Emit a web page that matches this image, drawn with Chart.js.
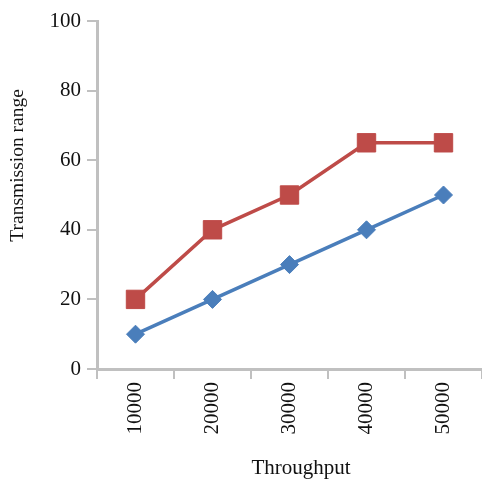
<!DOCTYPE html>
<html>
<head>
<meta charset="utf-8">
<script src="https://cdn.jsdelivr.net/npm/chart.js@4.4.1/dist/chart.umd.min.js"></script>
<style>
html,body{margin:0;padding:0;background:#fff;overflow:hidden;}
#wrap{width:482px;height:481px;position:relative;}
</style>
</head>
<body>
<div id="wrap"><canvas id="c"></canvas></div>
<script>
const categories = ['10000','20000','30000','40000','50000'];
const seriesBlue = [10, 20, 30, 40, 50];
const seriesRed = [20, 40, 50, 65, 65];
const yTicks = [0, 20, 40, 60, 80, 100];
const xTitle = 'Throughput';
const yTitle = 'Transmission range';

const FONT = '"Liberation Serif", "Times New Roman", serif';
const AXIS = '#c0c0c0';
const TEXT = '#111';

const axisTitles = {
  id: 'axisTitles',
  afterDraw(chart) {
    const ctx = chart.ctx;
    const area = chart.chartArea;
    ctx.save();
    ctx.fillStyle = TEXT;
    ctx.textAlign = 'center';
    ctx.textBaseline = 'middle';
    ctx.font = '21px ' + FONT;
    ctx.fillText(xTitle, area.left + (area.right - area.left) * 0.53, 468);
    ctx.translate(18, area.top + (area.bottom - area.top) * 0.415);
    ctx.rotate(-Math.PI / 2);
    ctx.font = '19.5px ' + FONT;
    ctx.fillText(yTitle, 0, 0);
    ctx.restore();
  }
};

new Chart(document.getElementById('c'), {
  type: 'line',
  data: {
    labels: categories,
    datasets: [
      {
        label: 'Series 2',
        data: seriesRed,
        borderColor: '#be4b48',
        backgroundColor: '#be4b48',
        borderWidth: 3.5,
        pointStyle: 'rect',
        pointRadius: 13,
        pointHoverRadius: 13,
        pointBorderWidth: 1,
        tension: 0
      },
      {
        label: 'Series 1',
        data: seriesBlue,
        borderColor: '#4a7ebb',
        backgroundColor: '#4a7ebb',
        borderWidth: 3.5,
        pointStyle: 'rectRot',
        pointRadius: 9,
        pointHoverRadius: 9,
        pointBorderWidth: 1,
        tension: 0
      }
    ]
  },
  plugins: [axisTitles],
  options: {
    responsive: true,
    maintainAspectRatio: false,
    animation: false,
    layout: { autoPadding: false, padding: { top: 21, right: 0, bottom: 0, left: 0 } },
    plugins: { legend: { display: false }, tooltip: { enabled: false } },
    scales: {
      x: {
        offset: true,
        grid: { display: true, drawOnChartArea: false, offset: true, color: AXIS, tickLength: 10, lineWidth: 2 },
        border: { display: true, color: AXIS, width: 3 },
        ticks: { minRotation: 90, maxRotation: 90, color: TEXT, padding: 3, font: { family: FONT, size: 21 } },
        afterFit: (s) => { s.height = 112; s.paddingRight = 0; s.paddingLeft = 0; }
      },
      y: {
        min: 0, max: 100,
        afterBuildTicks: (s) => { s.ticks = yTicks.map(v => ({ value: v })); },
        grid: { display: true, drawOnChartArea: false, color: AXIS, tickLength: 10, lineWidth: 2 },
        border: { display: true, color: AXIS, width: 3 },
        ticks: { color: TEXT, padding: 6, font: { family: FONT, size: 21 } },
        afterFit: (s) => { s.width = 97; }
      }
    }
  }
});
</script>
</body>
</html>
